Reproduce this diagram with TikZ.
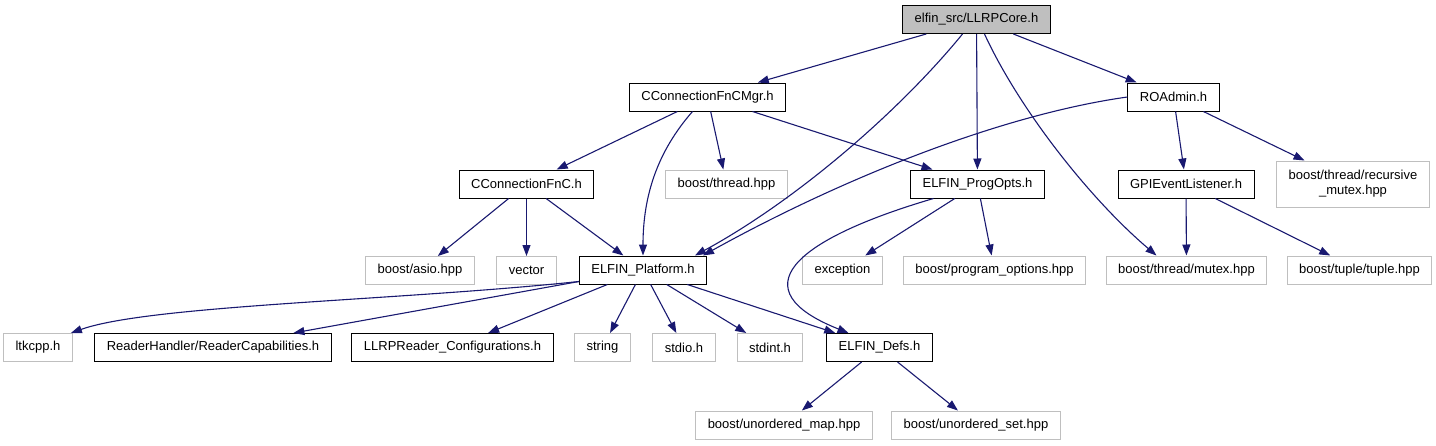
\documentclass[tikz,border=0pt]{standalone}
\usepackage{fontspec}
\setmainfont{Liberation Sans}
\usetikzlibrary{arrows.meta}
\definecolor{edgeblue}{HTML}{191970}
\definecolor{boxgrey}{HTML}{BFBFBF}

\begin{document}
\begin{tikzpicture}[
    x=1pt, y=-1pt,
    every node/.style={font=\fontsize{13}{15}\selectfont},
    box/.style={draw, line width=1pt, inner xsep=12pt, inner ysep=0pt,
                minimum height=28pt, align=center},
    hdr/.style={box, draw=black},
    sys/.style={box, draw=boxgrey},
    root/.style={hdr, fill=boxgrey},
    dep/.style={-{Triangle[length=11pt, width=8pt]}, draw=edgeblue, line width=1.1pt},
  ]
  \useasboundingbox (0,0) rectangle (1436,445);
  % top levels
  \node[root] (core)     at (976.5, 19.5) {elfin\_src/LLRPCore.h};
  \node[hdr]  (mgr)      at (707.5, 97)   {CConnectionFnCMgr.h};
  \node[hdr]  (roadmin)  at (1173.5, 97)  {ROAdmin.h};
  \node[hdr]  (connfnc)  at (526.5, 184)  {CConnectionFnC.h};
  \node[sys]  (thread)   at (726.5, 184)  {boost/thread.hpp};
  \node[hdr]  (progopts) at (977.5, 184)  {ELFIN\_ProgOpts.h};
  \node[hdr]  (gpi)      at (1186, 184)   {GPIEventListener.h};
  \node[sys, minimum height=46pt] (recmutex) at (1353, 184)
    {boost/thread/recursive\\\_mutex.hpp};
  % third row
  \node[sys]  (asio)     at (420, 270.5)   {boost/asio.hpp};
  \node[sys]  (vector)   at (526.5, 270.5) {vector};
  \node[hdr]  (platform) at (643, 270)     {ELFIN\_Platform.h};
  \node[sys]  (except)   at (842.5, 270)   {exception};
  \node[sys]  (progopt)  at (994.5, 270)   {boost/program\_options.hpp};
  \node[sys]  (mutex)    at (1186.5, 270)  {boost/thread/mutex.hpp};
  \node[sys]  (tuple)    at (1359.5, 270)  {boost/tuple/tuple.hpp};
  % fourth row
  \node[sys]  (ltkcpp)   at (38, 347.5)    {ltkcpp.h};
  \node[hdr]  (readcap)  at (213, 347.5)   {ReaderHandler/ReaderCapabilities.h};
  \node[hdr]  (llrpconf) at (452.5, 347.5) {LLRPReader\_Configurations.h};
  \node[sys]  (string)   at (602.5, 347.5) {string};
  \node[sys]  (stdio)    at (684, 347.5)   {stdio.h};
  \node[sys]  (stdint)   at (770, 347.5)   {stdint.h};
  \node[hdr]  (defs)     at (879.5, 347.5) {ELFIN\_Defs.h};
  \node[sys]  (umap)     at (784, 425)     {boost/unordered\_map.hpp};
  \node[sys]  (uset)     at (976, 425)     {boost/unordered\_set.hpp};
  % LLRPCore.h
  \draw[dep] (core) -- (mgr);
  \draw[dep] ([xshift=-14pt]core.south) .. controls +(-62,76) and +(103,-56)
    .. ([xshift=52pt]platform.north);
  \draw[dep] (core) -- (progopts);
  \draw[dep] ([xshift=8pt]core.south) .. controls +(35,76) and +(-66,-56)
    .. ([xshift=-30pt]mutex.north);
  \draw[dep] (core) -- (roadmin);
  % CConnectionFnCMgr.h
  \draw[dep] (mgr) -- (connfnc);
  \draw[dep] ([xshift=-15pt]mgr.south) .. controls +(-35,40) and +(0,-60)
    .. (platform.north);
  \draw[dep] (mgr) -- (thread);
  \draw[dep] (mgr) -- (progopts);
  % ROAdmin.h
  \draw[dep] (roadmin.west) .. controls +(-128,18) and +(137,-76)
    .. ([xshift=60pt]platform.north);
  \draw[dep] (roadmin) -- (gpi);
  \draw[dep] (roadmin) -- (recmutex);
  % GPIEventListener.h
  \draw[dep] (gpi) -- (mutex);
  \draw[dep] (gpi) -- (tuple);
  % ELFIN_ProgOpts.h
  \draw[dep] ([xshift=-44pt]progopts.south) .. controls +(-143,42) and +(-108,-43)
    .. ([xshift=-31pt]defs.north);
  \draw[dep] (progopts) -- (except);
  \draw[dep] (progopts) -- (progopt);
  % CConnectionFnC.h
  \draw[dep] (connfnc) -- (asio);
  \draw[dep] (connfnc) -- (vector);
  \draw[dep] (connfnc) -- (platform);
  % ELFIN_Platform.h
  \draw[dep] ([yshift=3pt]platform.south west) .. controls +(-179,19) and +(79,-28)
    .. ([xshift=-2pt]ltkcpp.north east);
  \draw[dep] (platform) -- (readcap);
  \draw[dep] (platform) -- (llrpconf);
  \draw[dep] (platform) -- (string);
  \draw[dep] (platform) -- (stdio);
  \draw[dep] (platform) -- (stdint);
  \draw[dep] (platform) -- (defs);
  % ELFIN_Defs.h
  \draw[dep] (defs) -- (umap);
  \draw[dep] (defs) -- (uset);
\end{tikzpicture}
\end{document}
